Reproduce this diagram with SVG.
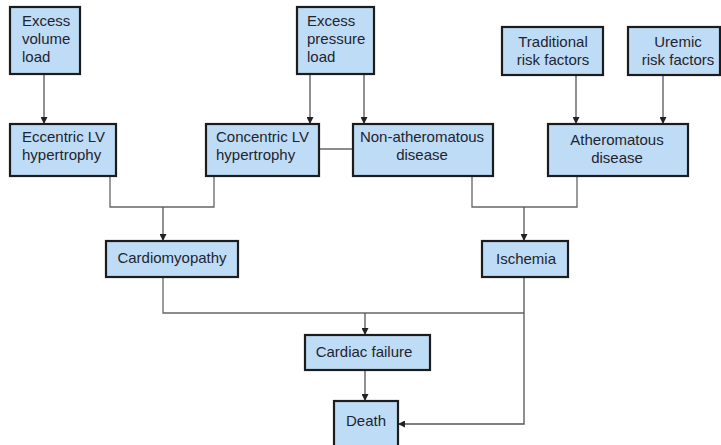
<svg xmlns="http://www.w3.org/2000/svg" width="721" height="445" viewBox="0 0 721 445">
<defs>
<marker id="ah" viewBox="0 0 10 10" refX="10" refY="5" markerWidth="7" markerHeight="7" markerUnits="userSpaceOnUse" orient="auto">
<path d="M0,0 L10,5 L0,10 Z" fill="#222"/>
</marker>
<style>
.box{fill:#bfdcf6;stroke:#1c1c1c;stroke-width:2.2}
.t{font-family:"Liberation Sans",Arial,sans-serif;font-size:15px;fill:#1e2430}
.c{text-anchor:middle}
.ln{fill:none;stroke:#666;stroke-width:1.3}
.ar{fill:none;stroke:#555;stroke-width:1.3;marker-end:url(#ah)}
</style>
</defs>
<rect width="721" height="445" fill="#fff"/>
<g id="connectors">
<path class="ar" d="M44,74 V124"/>
<path class="ar" d="M310,74 V124"/>
<path class="ar" d="M364,74 V124"/>
<path class="ar" d="M576,75 V124"/>
<path class="ar" d="M663,75 V124"/>
<path class="ln" d="M319,149 H353"/>
<path class="ln" d="M110,176 V207 H214 V176"/>
<path class="ar" d="M163,207 V241"/>
<path class="ln" d="M472,176 V207 H577 V176"/>
<path class="ar" d="M524,207 V241"/>
<path class="ln" d="M163,277 V313 H524"/>
<path class="ar" d="M365,313 V335"/>
<path class="ar" d="M365,370 V401"/>
<path class="ar" d="M524,277 V424 H398"/>
</g>
<g id="excess-volume">
<rect class="box" x="10" y="7" width="70" height="67"/>
<text class="t" x="22" y="26">Excess</text>
<text class="t" x="22" y="44">volume</text>
<text class="t" x="22" y="62">load</text>
</g>
<g id="excess-pressure">
<rect class="box" x="297" y="7" width="77" height="67"/>
<text class="t" x="307" y="26">Excess</text>
<text class="t" x="307" y="44">pressure</text>
<text class="t" x="307" y="62">load</text>
</g>
<g id="traditional">
<rect class="box" x="502" y="27" width="101" height="48"/>
<text class="t c" x="553" y="47">Traditional</text>
<text class="t c" x="553" y="65">risk factors</text>
</g>
<g id="uremic">
<rect class="box" x="628" y="27" width="92" height="48"/>
<text class="t c" x="678" y="47">Uremic</text>
<text class="t c" x="678" y="65">risk factors</text>
</g>
<g id="eccentric">
<rect class="box" x="10" y="124" width="106" height="52"/>
<text class="t" x="22" y="142">Eccentric LV</text>
<text class="t" x="22" y="160">hypertrophy</text>
</g>
<g id="concentric">
<rect class="box" x="206" y="124" width="113" height="52"/>
<text class="t" x="216" y="142">Concentric LV</text>
<text class="t" x="216" y="160">hypertrophy</text>
</g>
<g id="non-atheromatous">
<rect class="box" x="353" y="124" width="140" height="52"/>
<text class="t c" x="422" y="142">Non-atheromatous</text>
<text class="t c" x="422" y="160">disease</text>
</g>
<g id="atheromatous">
<rect class="box" x="548" y="124" width="140" height="52"/>
<text class="t c" x="617" y="145">Atheromatous</text>
<text class="t c" x="617" y="163">disease</text>
</g>
<g id="cardiomyopathy">
<rect class="box" x="106" y="241" width="132" height="36"/>
<text class="t c" x="172" y="263">Cardiomyopathy</text>
</g>
<g id="ischemia">
<rect class="box" x="482" y="241" width="86" height="36"/>
<text class="t c" x="526" y="264">Ischemia</text>
</g>
<g id="cardiac-failure">
<rect class="box" x="305" y="335" width="125" height="35"/>
<text class="t c" x="364" y="357">Cardiac failure</text>
</g>
<g id="death">
<rect class="box" x="334" y="401" width="64" height="50"/>
<text class="t c" x="366" y="426">Death</text>
</g>
</svg>
